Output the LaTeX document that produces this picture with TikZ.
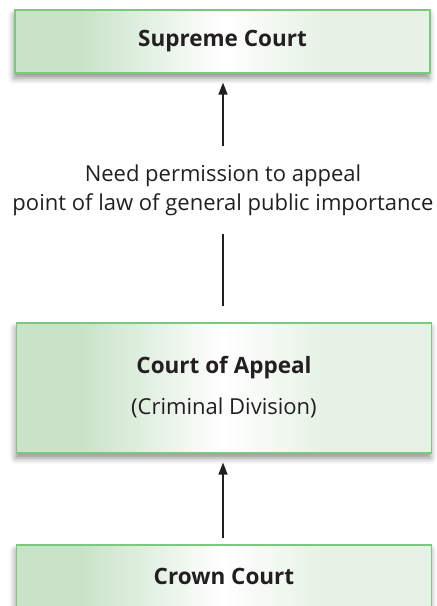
\documentclass[tikz,border=0pt]{standalone}
\usepackage{fontspec}
\setmainfont{Open Sans}
\usetikzlibrary{arrows.meta,shadows.blur}
\definecolor{boxedge}{HTML}{7CC880}
\definecolor{boxleft}{HTML}{C9E3C9}
\definecolor{boxright}{HTML}{E6F2E5}
\definecolor{ink}{HTML}{231F20}
% green-white-green fill across each court box
\pgfdeclarehorizontalshading{courtfill}{100bp}{%
  color(0bp)=(boxleft); color(25bp)=(boxleft); color(33bp)=(boxleft);
  color(50bp)=(white); color(62bp)=(boxright);
  color(75bp)=(boxright); color(100bp)=(boxright)}
\tikzset{
  court/.style={draw=boxedge, line width=1.2pt, rectangle, shading=courtfill,
    minimum width=415pt, inner sep=0pt, text=ink,
    blur shadow={shadow xshift=-1pt, shadow yshift=-5pt, shadow blur radius=6pt, shadow opacity=45}},
  title/.style={text=ink, font=\bfseries\fontsize{22.5}{26}\selectfont},
  link/.style={draw=ink, line width=1.6pt},
  up/.style={link, -{Triangle[length=12pt,width=9pt]}},
  note/.style={text=ink, align=center, font=\fontsize{22}{29}\selectfont}
}
\begin{document}
\begin{tikzpicture}[x=1pt, y=-1pt]
  \useasboundingbox (0,0) rectangle (437,606);
  \node[court, minimum height=63pt] (supreme) at (222.5,41.5) {};
  \node[title] at (supreme.center) {Supreme Court};

  \node[court, minimum height=130pt] (appeal) at (224,388) {};
  \node[title] (appealname) at (224,368) {Court of Appeal};
  \node[text=ink, font=\fontsize{22}{26}\selectfont] (division) at (224,408) {(Criminal Division)};

  \node[court, minimum height=62pt] (crown) at (224,576) {};
  \node[title] at (crown.center) {Crown Court};

  \node[note] (permission) at (223,190) {Need permission to appeal\\point of law of general public importance};

  \coordinate (low) at (223,234);
  \coordinate (high) at (223,146);

  \draw[link, shorten <=16pt] (appeal.north -| low) -- (low);
  \draw[up, shorten >=9pt] (high) -- (supreme.south -| high);
  \draw[up, shorten <=6pt, shorten >=9pt] (crown.north -| high) -- (appeal.south -| high);
\end{tikzpicture}
\end{document}
